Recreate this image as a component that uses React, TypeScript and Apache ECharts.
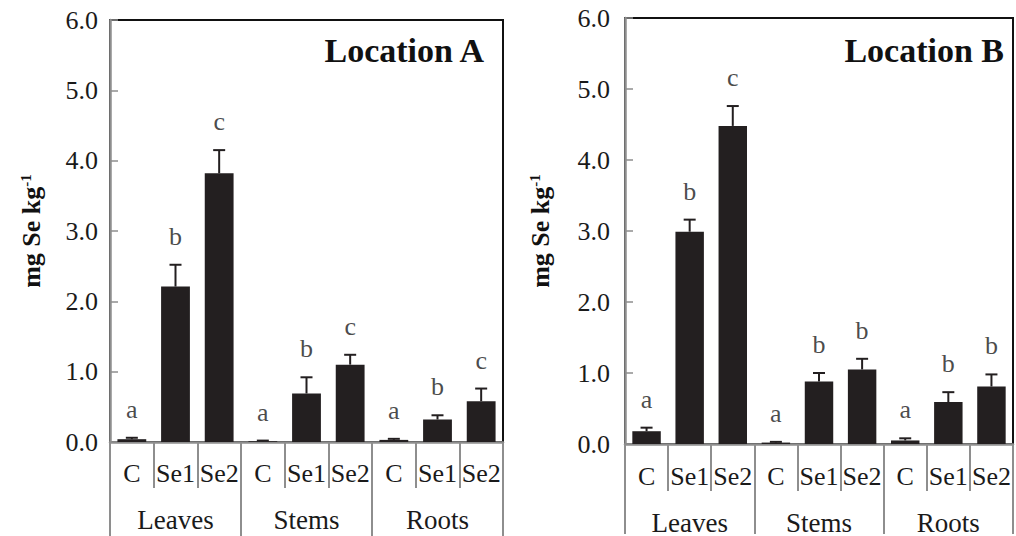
import React, { useEffect, useRef } from "react";
import * as echarts from "echarts";

const treatments = ["C", "Se1", "Se2", "C", "Se1", "Se2", "C", "Se1", "Se2"];
const organs = ["Leaves", "Stems", "Roots"];
const yTicks = [0, 1, 2, 3, 4, 5, 6];

const meanA = [0.04, 2.21, 3.82, 0.01, 0.69, 1.1, 0.03, 0.32, 0.58];
const errA = [0.02, 0.31, 0.33, 0.01, 0.23, 0.14, 0.015, 0.06, 0.18];
const lettersA = ["a", "b", "c", "a", "b", "c", "a", "b", "c"];

const meanB = [0.18, 2.99, 4.48, 0.02, 0.88, 1.05, 0.05, 0.59, 0.81];
const errB = [0.05, 0.17, 0.28, 0.01, 0.12, 0.15, 0.03, 0.14, 0.17];
const lettersB = ["a", "b", "c", "a", "b", "b", "a", "b", "b"];

const SERIF = "Liberation Serif";
const GRAY = "#8e8e8e";
const INK = "#231f20";
const TEXT = "#1a1a1a";

export default function App() {
  const ref = useRef<HTMLDivElement>(null);
  useEffect(() => {
    if (!ref.current) return;
    const chart = echarts.init(ref.current, null, { renderer: "svg" });

    const grids = [
      { left: 110, top: 20, width: 393, height: 422 },
      { left: 625, top: 18, width: 388, height: 428 },
    ];

    const subAxis = (gi: number, tickLen: number, margin: number) => ({
      type: "category",
      gridIndex: gi,
      data: treatments,
      position: "bottom",
      axisLine: { show: true, lineStyle: { color: GRAY, width: 2.5 } },
      axisTick: { show: true, interval: 0, length: tickLen, lineStyle: { color: GRAY, width: 2 } },
      axisLabel: { interval: 0, fontSize: 26, fontFamily: SERIF, color: TEXT, margin },
      splitLine: { show: false },
    });
    const groupAxis = (gi: number, tickLen: number, margin: number) => ({
      type: "category",
      gridIndex: gi,
      data: organs,
      position: "bottom",
      axisLine: { show: false },
      axisTick: { show: true, interval: 0, length: tickLen, lineStyle: { color: GRAY, width: 2 } },
      axisLabel: { interval: 0, fontSize: 27, fontFamily: SERIF, color: TEXT, margin },
      splitLine: { show: false },
    });
    const yAx = (gi: number, margin: number, nameGap: number) => ({
      type: "value",
      gridIndex: gi,
      min: yTicks[0],
      max: yTicks[yTicks.length - 1],
      interval: 1,
      name: "{a|mg Se kg}{s|-1}",
      nameLocation: "middle",
      nameGap,
      nameRotate: 90,
      nameTextStyle: {
        rich: {
          a: { fontSize: 26, fontWeight: "bold", fontFamily: SERIF, color: "#111" },
          s: { fontSize: 15, fontWeight: "bold", fontFamily: SERIF, color: "#111", verticalAlign: "top", lineHeight: 15 },
        },
      },
      axisLine: { show: true, lineStyle: { color: GRAY, width: 2.5 } },
      axisTick: { show: true, inside: true, length: 8, lineStyle: { color: GRAY, width: 1.5 } },
      axisLabel: { fontSize: 26, fontFamily: SERIF, color: TEXT, margin, formatter: (v: number) => v.toFixed(1) },
      splitLine: { show: false },
    });

    const makeSeries = (mean: number[], err: number[], letters: string[], xi: number, yi: number) => [
      {
        type: "bar",
        xAxisIndex: xi,
        yAxisIndex: yi,
        data: mean,
        barWidth: "66%",
        itemStyle: { color: INK },
        z: 3,
      },
      {
        type: "custom",
        xAxisIndex: xi,
        yAxisIndex: yi,
        data: mean.map((m, i) => [i, m, m + err[i]]),
        encode: { x: 0, y: [1, 2] },
        renderItem: (params: any, api: any) => {
          const p0 = api.coord([api.value(0), api.value(1)]);
          const p1 = api.coord([api.value(0), api.value(2)]);
          const half = 6;
          return {
            type: "group",
            children: [
              { type: "line", shape: { x1: p0[0], y1: p0[1], x2: p1[0], y2: p1[1] }, style: { stroke: INK, lineWidth: 2 } },
              { type: "line", shape: { x1: p1[0] - half, y1: p1[1], x2: p1[0] + half, y2: p1[1] }, style: { stroke: INK, lineWidth: 2 } },
            ],
          };
        },
        z: 4,
      },
      {
        type: "scatter",
        xAxisIndex: xi,
        yAxisIndex: yi,
        data: mean.map((m, i) => [i, m + err[i]]),
        symbolSize: 1,
        itemStyle: { color: "rgba(0,0,0,0)" },
        label: {
          show: true,
          position: "top",
          distance: 15,
          formatter: (p: any) => letters[p.dataIndex],
          fontSize: 26,
          fontFamily: SERIF,
          color: TEXT,
        },
        z: 5,
      },
    ];

    chart.setOption({
      animation: false,
      backgroundColor: "#ffffff",
      title: [
        { text: "Location A", right: 525, top: 28, textStyle: { fontSize: 34, fontWeight: "bold", fontFamily: SERIF, color: "#111" } },
        { text: "Location B", right: 7, top: 28, textStyle: { fontSize: 34, fontWeight: "bold", fontFamily: SERIF, color: "#111" } },
      ],
      grid: grids.map((g) => ({ ...g, show: true, borderColor: "#111", borderWidth: 2, backgroundColor: "transparent", containLabel: false })),
      xAxis: [subAxis(0, 46, 18), groupAxis(0, 94, 64), subAxis(1, 47, 19), groupAxis(1, 90, 65)],
      yAxis: [yAx(0, 12, 66), yAx(1, 15, 72)],
      series: [...makeSeries(meanA, errA, lettersA, 0, 0), ...makeSeries(meanB, errB, lettersB, 2, 1)],
    });
    return () => chart.dispose();
  }, []);
  return <div ref={ref} style={{ position: "fixed", left: 0, top: 0, width: 1016, height: 536 }} />;
}
